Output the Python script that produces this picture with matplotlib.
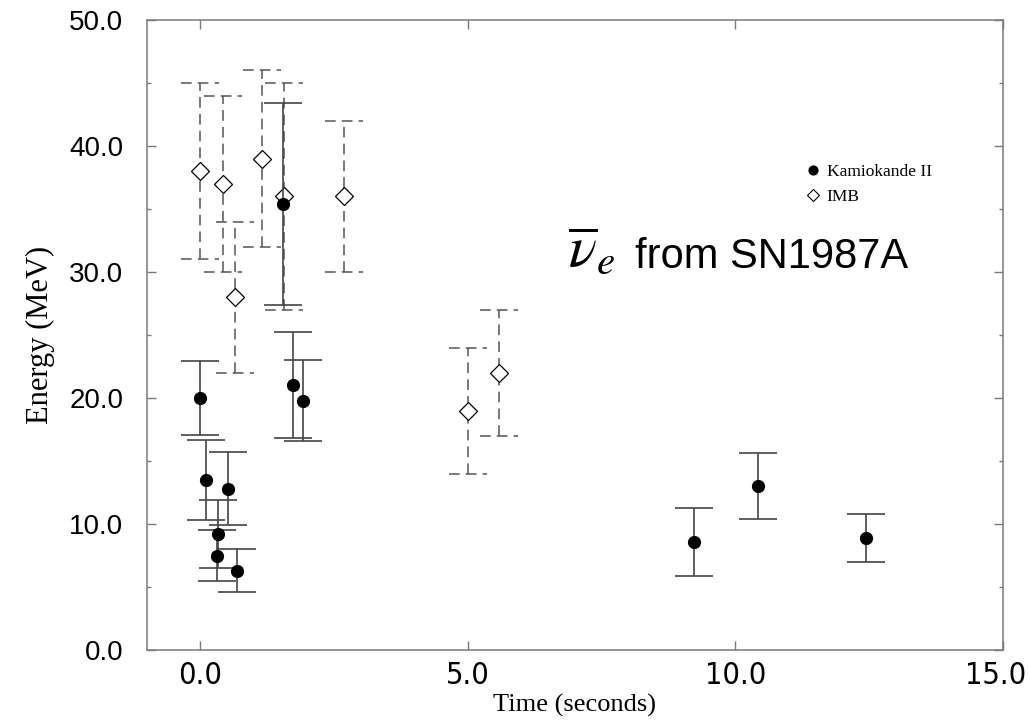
import numpy as np
import matplotlib
matplotlib.use("Agg")
import matplotlib.pyplot as plt
import matplotlib.transforms as mtransforms
from matplotlib.lines import Line2D
from matplotlib.ticker import MultipleLocator, FormatStrFormatter

# Kamiokande II events (time s, energy MeV, error MeV)
kam_t = [0.000, 0.107, 0.303, 0.324, 0.507, 0.686, 1.541, 1.728, 1.915, 9.219, 10.433, 12.439]
kam_e = [20.0, 13.5, 7.5, 9.2, 12.8, 6.3, 35.4, 21.0, 19.8, 8.6, 13.0, 8.9]
kam_err = [2.9, 3.2, 2.0, 2.7, 2.9, 1.7, 8.0, 4.2, 3.2, 2.7, 2.6, 1.9]

# IMB events
imb_t = [0.00, 0.42, 0.65, 1.15, 1.57, 2.69, 5.01, 5.59]
imb_e = [38, 37, 28, 39, 36, 36, 19, 22]
imb_err = [7, 7, 6, 7, 9, 6, 5, 5]

spine_col = "#7a7a7a"
plt.rcParams['mathtext.fontset'] = 'stix'

fig = plt.figure(figsize=(10.3, 7.22), dpi=100)
ax = fig.add_axes([0.1427, 0.0997, 0.8308, 0.8726])

# IMB: dashed bars with dashed caps
imb_t = np.array(imb_t); imb_e = np.array(imb_e); imb_err = np.array(imb_err)
cap_w = 0.355
ax.vlines(imb_t, imb_e - imb_err, imb_e + imb_err, colors="#555555",
          linewidth=1.1, linestyles=(0, (7, 4)), zorder=2)
for yy in (imb_e - imb_err, imb_e + imb_err):
    ax.hlines(yy, imb_t - cap_w, imb_t + cap_w, colors="#555555",
              linewidth=1.1, linestyles=(0, (7, 4)), zorder=2)
ax.plot(imb_t, imb_e, linestyle="none", marker="D", ms=8.8, mfc="white",
        mec="black", mew=0.9, zorder=4)

# Kamiokande: solid bars
ax.errorbar(kam_t, kam_e, yerr=kam_err, fmt="o", ms=8.5, mfc="black",
            mec="black", ecolor="#444444", elinewidth=1.2, capsize=13.7,
            capthick=1.2, zorder=5)

ax.set_xlim(-1, 15)
ax.set_ylim(0, 50)
ax.xaxis.set_major_locator(MultipleLocator(5))
ax.yaxis.set_major_locator(MultipleLocator(10))
ax.yaxis.set_minor_locator(MultipleLocator(5))
ax.xaxis.set_major_formatter(FormatStrFormatter('%.1f'))
ax.yaxis.set_major_formatter(FormatStrFormatter('%.1f'))

for s in ax.spines.values():
    s.set_color(spine_col)
    s.set_linewidth(1.1)
ax.tick_params(which="both", direction="in", top=True, right=True, color=spine_col, width=1.0)
ax.tick_params(which="major", length=6.5)
ax.tick_params(which="minor", length=3.2)
ax.tick_params(axis="y", pad=17)
ax.tick_params(axis="x", pad=8)

for lab in ax.get_yticklabels():
    lab.set_fontfamily(["Liberation Sans", "DejaVu Sans"])
    lab.set_fontsize(20)
for lab in ax.get_xticklabels():
    lab.set_fontfamily(["DejaVu Sans"])
    lab.set_fontstretch("condensed")
    lab.set_fontsize(22)

ax.set_xlabel("Time (seconds)", fontsize=19, family=["Liberation Serif", "DejaVu Serif"], labelpad=3)
ax.set_ylabel("Energy (MeV)", fontsize=22, family=["Liberation Serif", "DejaVu Serif"], labelpad=10)

handles = [
    Line2D([], [], linestyle="none", marker="o", ms=6.3, mfc="black", mec="black"),
    Line2D([], [], linestyle="none", marker="D", ms=6.3, mfc="white", mec="black", mew=0.8),
]
ax.legend(handles, ["Kamiokande II", "IMB"], loc="upper left",
          bbox_to_anchor=(0.770, 0.771), frameon=False, handlelength=0.8,
          handletextpad=0.4, borderpad=0, borderaxespad=0, labelspacing=0.5,
          prop={"family": "Liberation Serif", "size": 12.5})

ax.text(0.492, 0.6095, r"$\overline{\nu}_e$", transform=ax.transAxes,
        fontsize=42, ha="left", va="baseline")
ax.text(0.570, 0.606, "from SN1987A", transform=ax.transAxes,
        fontsize=30, family=["Liberation Sans", "DejaVu Sans"], ha="left", va="baseline")

# nudge the 15.0 label so it stays inside the canvas
fig.canvas.draw()
for lab in ax.get_xticklabels():
    if lab.get_text() == "15.0":
        lab.set_transform(lab.get_transform() +
                          mtransforms.ScaledTranslation(-5 / 72, 0, fig.dpi_scale_trans))

fig.savefig("out.png", dpi=100)
